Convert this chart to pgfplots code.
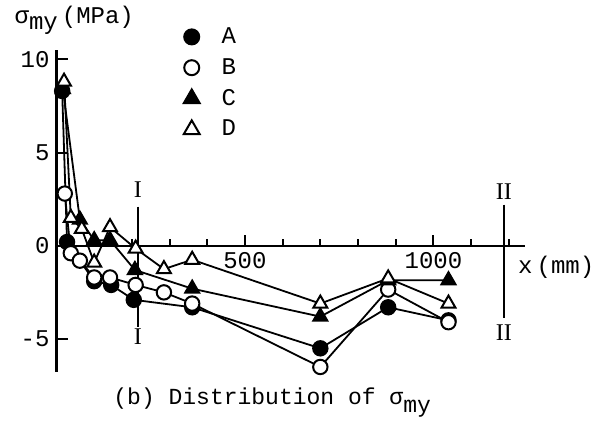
\documentclass[border=0pt]{standalone}
\usepackage{fontspec}
\setmainfont{Liberation Mono}
\newfontfamily\romfont{Liberation Serif}
\usepackage{pgfplots}
\pgfplotsset{compat=1.18}

\pgfplotstableread{
x y
15 8.3
28 0.2
100 -1.9
145 -2.1
205 -2.9
360 -3.3
700 -5.5
880 -3.3
1040 -4.0
}\seriesA
\pgfplotstableread{
x y
22 2.8
38 -0.4
62 -0.8
100 -1.7
142 -1.7
210 -2.1
285 -2.5
360 -3.1
700 -6.5
880 -2.35
1040 -4.1
}\seriesB
\pgfplotstableread{
x y
17 8.4
62 1.4
100 0.3
142 0.3
208 -1.3
360 -2.3
700 -3.8
880 -1.85
1040 -1.85
}\seriesC
\pgfplotstableread{
x y
20 8.8
38 1.5
67 0.9
100 -0.9
142 1.0
210 -0.15
285 -1.25
360 -0.75
700 -3.1
880 -1.75
1040 -3.1
}\seriesD

\begin{document}
\begin{tikzpicture}
\useasboundingbox (-28.25pt,-25.5pt) rectangle (269.75pt,186pt);
\begin{axis}[
  at={(0,0)}, anchor=south west,
  scale only axis, width=234.25pt, height=161pt,
  xmin=0, xmax=1243, ymin=-6.77, ymax=10.5,
  axis x line=middle, axis y line=left,
  axis line style={-, line width=1.2pt},
  xtick={500,1000}, minor xtick={100,200,...,1200},
  ytick={-5,0,5,10},
  tick style={line width=1pt, black},
  tick align=inside,
  major tick length=5.5pt, minor tick length=3.5pt,
  /pgf/number format/assume math mode=true,
  /pgf/number format/1000 sep={},
  ticklabel style={font=\fontsize{12}{14}\selectfont},
  clip=false,
  legend style={draw=none, fill=none, at={(0.258,1.096)}, anchor=north west,
    font=\fontsize{12}{14}\selectfont, row sep=2pt,
    /tikz/every odd column/.append style={column sep=9pt}},
  legend cell align=left,
]
\addlegendimage{only marks, mark=*, mark size=3.75pt, mark options={draw=black, fill=black, line width=1pt}}
\addlegendentry{A}
\addlegendimage{only marks, mark=*, mark size=3.75pt, mark options={draw=black, fill=white, line width=1pt}}
\addlegendentry{B}
\addlegendimage{only marks, mark=triangle*, mark size=4.6pt, mark options={draw=black, fill=black, line width=1pt}}
\addlegendentry{C}
\addlegendimage{only marks, mark=triangle*, mark size=4.6pt, mark options={draw=black, fill=white, line width=1pt}}
\addlegendentry{D}

\addplot[forget plot, black, line width=0.9pt, mark=*, mark size=3.6pt, mark options={fill=black, line width=1pt}] table {\seriesA};
\addplot[forget plot, black, line width=0.9pt, mark=*, mark size=3.6pt, mark options={fill=white, line width=1pt}] table {\seriesB};
\addplot[forget plot, black, line width=0.9pt, mark=triangle*, mark size=4pt, mark options={fill=black, line width=1pt}] table {\seriesC};
\addplot[forget plot, black, line width=0.9pt, mark=triangle*, mark size=4pt, mark options={fill=white, line width=1pt}] table {\seriesD};

% section lines
\addplot[forget plot, black, line width=1.1pt] coordinates {(216,2.1) (216,-4.35)};
\addplot[forget plot, black, line width=1.1pt] coordinates {(1187,2.2) (1187,-3.9)};
\node[font=\romfont\fontsize{12}{14}\selectfont] at (axis cs:216,3.0) {I};
\node[font=\romfont\fontsize{12}{14}\selectfont] at (axis cs:216,-4.9) {I};
\node[font=\romfont\fontsize{12}{14}\selectfont] at (axis cs:1187,2.9) {II};
\node[font=\romfont\fontsize{12}{14}\selectfont] at (axis cs:1187,-4.67) {II};

\node[anchor=west, font=\fontsize{12}{14}\selectfont, inner sep=0pt] at (axis cs:1224,-1.18) {x\,(mm)};
\node[anchor=west, font=\fontsize{12}{14}\selectfont, inner sep=0pt] at (axis cs:-112,12.1) {σ\raisebox{-0.5ex}{my}\,(MPa)};
\node[anchor=base west, font=\fontsize{11.5}{14}\selectfont, inner sep=0pt] at (axis cs:150,-8.53) {(b) Distribution of σ\raisebox{-0.6ex}{my}};
\end{axis}
\end{tikzpicture}
\end{document}
